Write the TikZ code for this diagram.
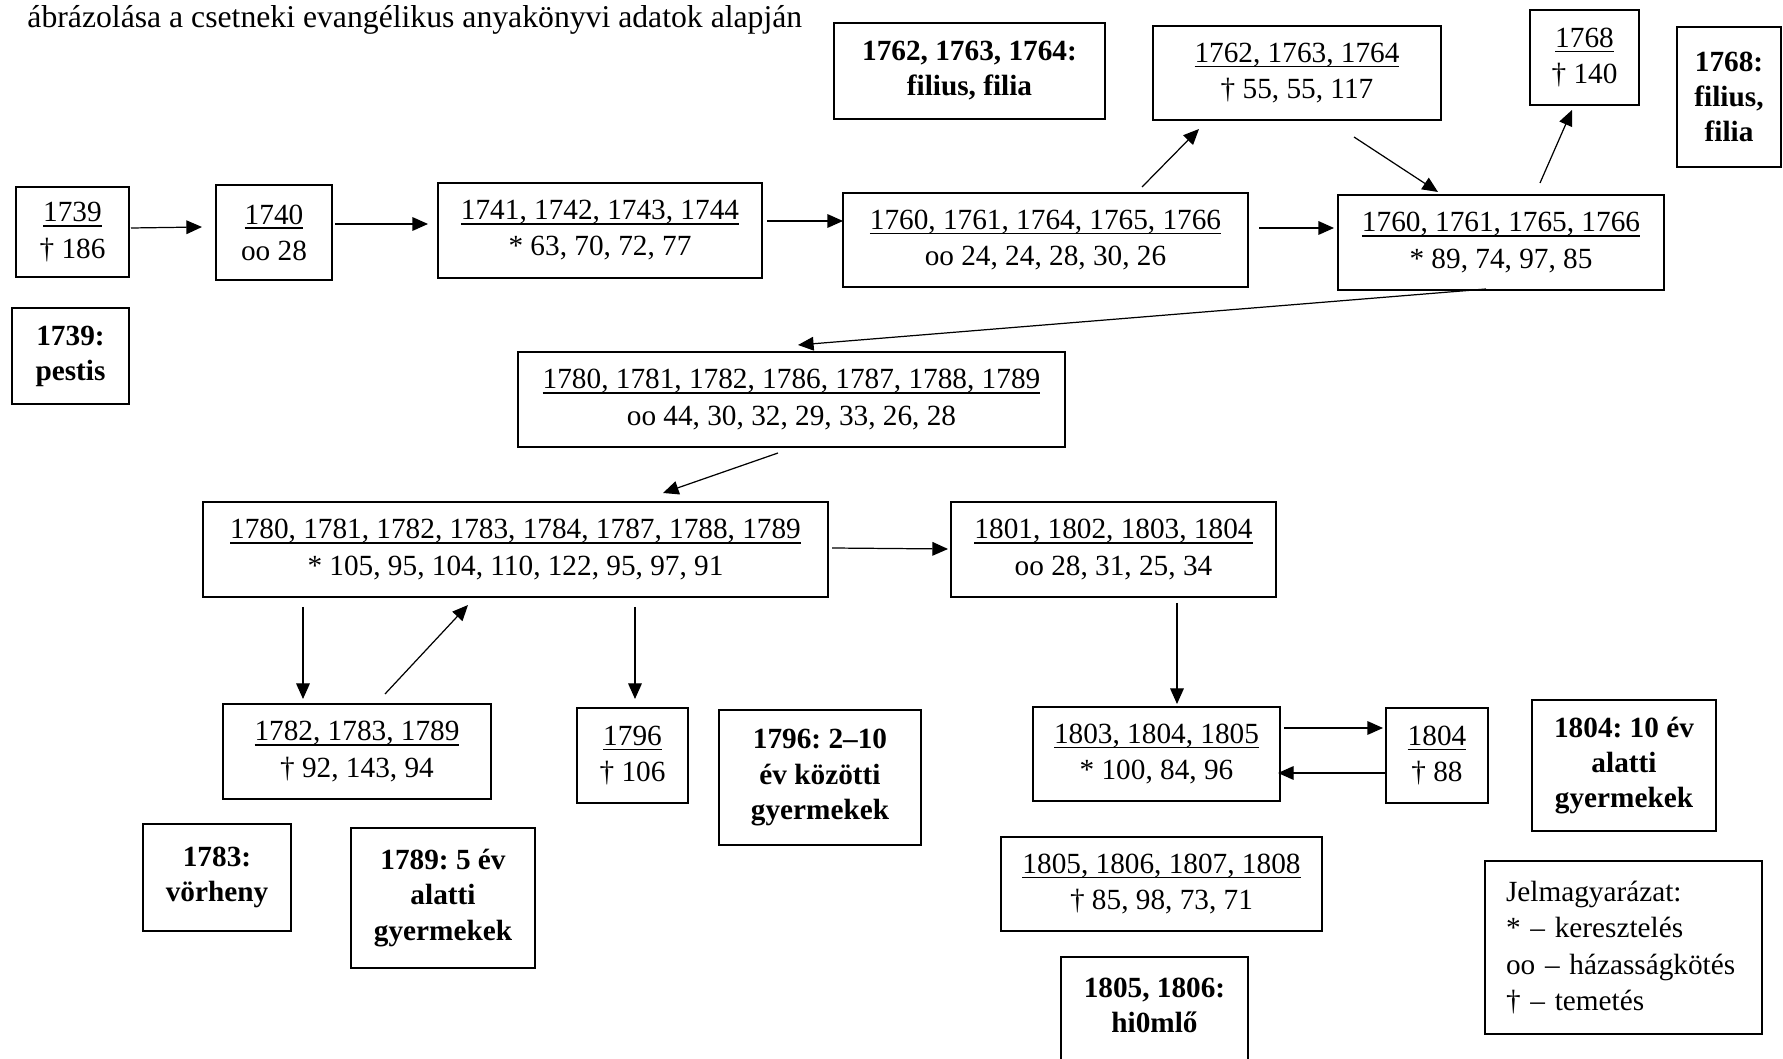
\documentclass[tikz,border=0pt]{standalone}
\usepackage{fontspec}
\setmainfont{Liberation Serif}
\usetikzlibrary{arrows.meta}
\newcommand\myul[1]{\setbox0\hbox{#1}\rlap{\rule[-1.9pt]{\wd0}{0.6pt}}\box0}
\frenchspacing
\begin{document}
\begin{tikzpicture}[x=0.41pt,y=-0.41pt,
  bb/.style args={#1/#2/#3/#4}{at={({(#1+#3)/2},{(#2+#4)/2})},minimum width={(#3-#1)*0.41pt},minimum height={(#4-#2)*0.41pt}},
  box/.style={draw,line width=0.8pt,inner sep=0pt,outer sep=0pt,align=center,font=\fontsize{12}{14.8}\selectfont},
  boldbox/.style={box,font=\fontsize{12}{14.4}\selectfont\bfseries},
  arr/.style={line width=0.5pt,-{Triangle[length=6.4pt,width=5.6pt]}}]
\useasboundingbox (0,0) rectangle (1783,1059);

\node[anchor=base west,inner sep=0pt,font=\fontsize{13}{15.6}\selectfont] (title) at (27,28) {ábrázolása a csetneki evangélikus anyakönyvi adatok alapján};

% normal boxes
\node[box,bb=16/187/129/277] (n1739) {\myul{1739}\\† 186};
\node[box,bb=216/185/332/280] (n1740) {\myul{1740}\\oo 28};
\node[box,bb=438/183/762/278] (n1741) {\myul{1741, 1742, 1743, 1744}\\{*} 63, 70, 72, 77};
\node[box,bb=843/193/1248/287] (n1760a) {\myul{1760, 1761, 1764, 1765, 1766}\\oo 24, 24, 28, 30, 26};
\node[box,bb=1338/195/1664/290] (n1760b) {\myul{1760, 1761, 1765, 1766}\\{*} 89, 74, 97, 85};
\node[box,bb=1153/26/1441/120] (n1762) {\myul{1762, 1763, 1764}\\† 55, 55, 117};
\node[box,bb=1530/10/1639/105] (n1768) {\myul{1768}\\† 140};
\node[box,bb=518/352/1065/447] (n1780a) {\myul{1780, 1781, 1782, 1786, 1787, 1788, 1789}\\oo 44, 30, 32, 29, 33, 26, 28};
\node[box,bb=203/502/828/597] (n1780b) {\myul{1780, 1781, 1782, 1783, 1784, 1787, 1788, 1789}\\{*} 105, 95, 104, 110, 122, 95, 97, 91};
\node[box,bb=951/502/1276/597] (n1801) {\myul{1801, 1802, 1803, 1804}\\oo 28, 31, 25, 34};
\node[box,bb=223/704/491/799] (n1782) {\myul{1782, 1783, 1789}\\† 92, 143, 94};
\node[box,bb=577/708/688/803] (n1796) {\myul{1796}\\† 106};
\node[box,bb=1033/707/1280/801] (n1803) {\myul{1803, 1804, 1805}\\{*} 100, 84, 96};
\node[box,bb=1386/708/1488/803] (n1804) {\myul{1804}\\† 88};
\node[box,bb=1001/837/1322/931] (n1805) {\myul{1805, 1806, 1807, 1808}\\† 85, 98, 73, 71};

% bold note boxes
\node[boldbox,bb=834/23/1105/119] (b1762) {1762, 1763, 1764:\\filius, filia};
\node[boldbox,bb=1677/27/1781/167] (b1768) {1768:\\filius,\\filia};
\node[boldbox,bb=12/308/129/404] (b1739) {1739:\\pestis};
\node[boldbox,bb=719/710/921/845] (b1796) {1796: 2–10\\év közötti\\gyermekek};
\node[boldbox,bb=143/824/291/931] (b1783) {1783:\\vörheny};
\node[boldbox,bb=351/828/535/968] (b1789) {1789: 5 év\\alatti\\gyermekek};
\node[boldbox,bb=1532/700/1716/831] (b1804) {1804: 10 év\\alatti\\gyermekek};
\node[boldbox,bb=1061/957/1248/1089] (b1805) {1805, 1806:\\hi0mlő\\\mbox{}};

% legend
\node[box,align=left,text width={235*0.41pt},font=\fontsize{12}{15}\selectfont,bb=1485/861/1762/1034] (legend) {Jelmagyarázat:\\{*} – keresztelés\\oo – házasságkötés\\† – temetés};

% connectors
\draw[arr] ([shift={(2,-4)}]n1739.east) -- ([shift={(-14,-5.5)}]n1740.west);
\draw[arr] ([shift={(3,-8.5)}]n1740.east) -- ([shift={(-10,-6.5)}]n1741.west);
\draw[arr] ([shift={(5,-9.5)}]n1741.east) -- ([shift={(0,-19)}]n1760a.west);
\draw[arr] ([shift={(96.5,-6)}]n1760a.north) -- ([shift={(-98,9)}]n1762.south);
\draw[arr] ([shift={(57,17)}]n1762.south) -- ([shift={(-63,-3)}]n1760b.north);
\draw[arr] ([shift={(39,-12)}]n1760b.north) -- ([shift={(-12.5,5)}]n1768.south);
\draw[arr] ([shift={(11,-12)}]n1760a.east) -- ([shift={(-4,-14.5)}]n1760b.west);
\draw[arr] ([shift={(-15,-1)}]n1760b.south) -- ([shift={(6.5,-7)}]n1780a.north);
\draw[arr] ([shift={(-13.5,6)}]n1780a.south) -- ([shift={(147.5,-9)}]n1780b.north);
\draw[arr] ([shift={(4,-1.5)}]n1780b.east) -- ([shift={(-3,-0.5)}]n1801.west);
\draw[arr] ([shift={(-212.5,10)}]n1780b.south) -- ([shift={(-54,-5)}]n1782.north);
\draw[arr] ([shift={(28,-10)}]n1782.north) -- ([shift={(-47.5,8)}]n1780b.south);
\draw[arr] ([shift={(119.5,10)}]n1780b.south) -- ([shift={(2.5,-9)}]n1796.north);
\draw[arr] ([shift={(63.5,6)}]n1801.south) -- ([shift={(20.5,-3)}]n1803.north);
\draw[arr] ([shift={(4,-26)}]n1803.east) -- ([shift={(-3,-27.5)}]n1804.west);
\draw[arr] ([shift={(0,17.5)}]n1804.west) -- ([shift={(-2,19)}]n1803.east);
\end{tikzpicture}
\end{document}
